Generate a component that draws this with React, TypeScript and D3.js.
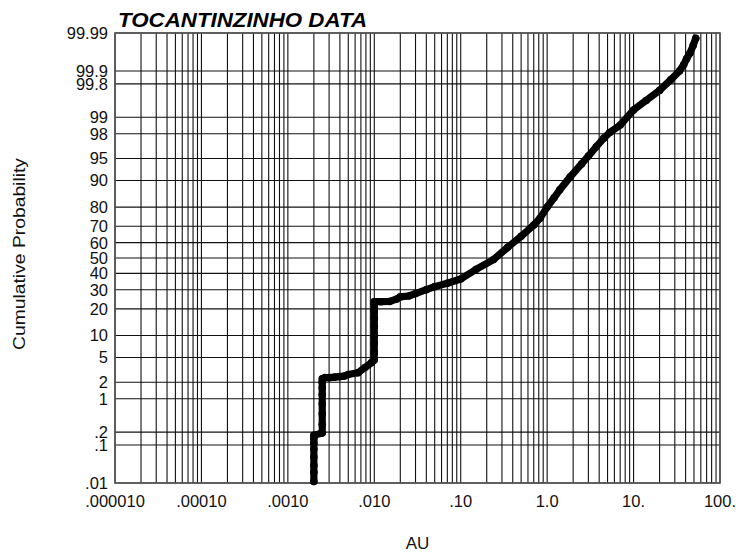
import React from "react";
import * as d3 from "d3";

// Probability-axis grid lines (cumulative %) and their labels
const probTicks = [99.99, 99.9, 99.8, 99, 98, 95, 90, 80, 70, 60, 50, 40, 30, 20, 10, 5, 2, 1, 0.2, 0.1, 0.01];
const probLabels = ["99.99", "99.9", "99.8", "99", "98", "95", "90", "80", "70", "60", "50", "40", "30", "20", "10", "5", "2", "1", ".2", ".1", ".01"];

// Log-axis decades and their labels
const auTicks = [1e-5, 1e-4, 1e-3, 1e-2, 1e-1, 1, 10, 100];
const auLabels = [".000010", ".00010", ".0010", ".010", ".10", "1.0", "10.", "100."];

// Sample grades (AU) and their cumulative probability (%)
const auValues = [
  0.002, 0.002, 0.002, 0.002, 0.002, 0.002, 0.002, 0.002,
  0.0025, 0.0025, 0.0025, 0.0025, 0.0025, 0.0025, 0.0025, 0.0025,
  0.0027, 0.003, 0.0035, 0.004, 0.0045, 0.005, 0.0065, 0.0078, 0.0093,
  0.01, 0.01, 0.01, 0.01, 0.01, 0.01, 0.01, 0.01, 0.01,
  0.012, 0.015, 0.018, 0.02, 0.025, 0.03, 0.04, 0.05, 0.07, 0.1, 0.15, 0.24, 0.35, 0.5, 0.7, 0.83,
  1.0, 1.2, 1.4, 1.85, 2.5, 3.0, 3.7, 4.5, 5.3, 7, 10, 14, 20, 27, 34, 38, 41, 45, 49, 52.4,
];
const cumProb = [
  0.011, 0.02, 0.03, 0.05, 0.08, 0.11, 0.14, 0.17,
  0.19, 0.3, 0.5, 0.8, 1.2, 1.6, 2.0, 2.3,
  2.4, 2.4, 2.45, 2.5, 2.55, 2.7, 2.9, 3.5, 4.2,
  4.6, 6, 8, 10, 13, 16, 19, 22, 23.5,
  23.5, 23.6, 24.8, 26, 26.5, 27.8, 30, 31.8, 33.8, 36.4, 42.5, 49, 57, 64, 70.7, 74.5,
  80, 84, 87, 91, 94, 95.4, 96.7, 97.6, 98.1, 98.6, 99.28, 99.54, 99.72, 99.84, 99.9, 99.93, 99.95, 99.965, 99.978, 99.986,
];

// Inverse of the standard normal CDF (Acklam's rational approximation)
function qnorm(p: number): number {
  const a = [-3.969683028665376e1, 2.209460984245205e2, -2.759285104469687e2, 1.38357751867269e2, -3.066479806614716e1, 2.506628277459239];
  const b = [-5.447609879822406e1, 1.615858368580409e2, -1.556989798598866e2, 6.680131188771972e1, -1.328068155288572e1];
  const c = [-7.784894002430293e-3, -3.223964580411365e-1, -2.400758277161838, -2.549732539343734, 4.374664141464968, 2.938163982698783];
  const d = [7.784695709041462e-3, 3.224671290700398e-1, 2.445134137142996, 3.754408661907416];
  const pl = 0.02425;
  if (p < pl) {
    const q = Math.sqrt(-2 * Math.log(p));
    return (((((c[0] * q + c[1]) * q + c[2]) * q + c[3]) * q + c[4]) * q + c[5]) / ((((d[0] * q + d[1]) * q + d[2]) * q + d[3]) * q + 1);
  }
  if (p > 1 - pl) {
    const q = Math.sqrt(-2 * Math.log(1 - p));
    return -(((((c[0] * q + c[1]) * q + c[2]) * q + c[3]) * q + c[4]) * q + c[5]) / ((((d[0] * q + d[1]) * q + d[2]) * q + d[3]) * q + 1);
  }
  const q = p - 0.5;
  const r = q * q;
  return ((((((a[0] * r + a[1]) * r + a[2]) * r + a[3]) * r + a[4]) * r + a[5]) * q) / (((((b[0] * r + b[1]) * r + b[2]) * r + b[3]) * r + b[4]) * r + 1);
}

const W = 736;
const H = 552;
const left = 115;
const right = 720;
const top = 33;
const bottom = 483;
const font = "'Liberation Sans', Arial, Helvetica, sans-serif";

export default function App() {
  const x = d3.scaleLog().domain([1e-5, 100]).range([left, right]);
  const zMax = qnorm(0.9999);
  const yz = d3.scaleLinear().domain([-zMax, zMax]).range([bottom, top]);
  const y = (pct: number) => yz(qnorm(pct / 100));

  // minor grid: 1..9 within each decade
  const vLines: number[] = [];
  for (let e = -5; e < 2; e++) {
    for (let m = 1; m <= 9; m++) vLines.push(m * Math.pow(10, e));
  }
  vLines.push(100);

  const pts = auValues.map((v, i) => [x(v), y(cumProb[i])] as [number, number]);
  const line = d3.line<[number, number]>().x((d) => d[0]).y((d) => d[1]);

  return (
    <svg width={W} height={H} style={{ position: "absolute", left: 0, top: 0, background: "#fff" }} fontFamily={font}>
      <rect x={0} y={0} width={W} height={H} fill="#fff" />
      <g stroke="#111" strokeWidth={1.1}>
        {vLines.map((v, i) => (
          <line key={"v" + i} x1={x(v)} x2={x(v)} y1={top} y2={bottom} />
        ))}
        {probTicks.map((p, i) => (
          <line key={"h" + i} x1={left} x2={right} y1={y(p)} y2={y(p)} />
        ))}
      </g>
      <rect x={left} y={top} width={right - left} height={bottom - top} fill="none" stroke="#555" strokeWidth={1.6} />

      {/* cumulative probability curve */}
      <path d={line(pts) || ""} fill="none" stroke="#000" strokeWidth={7.2} strokeLinejoin="round" strokeLinecap="round" />
      <g fill="#000">
        {pts.map((p, i) => (
          <circle key={"c" + i} cx={p[0]} cy={p[1]} r={3.8} />
        ))}
      </g>

      {/* y tick labels */}
      <g fontSize={16.5} textAnchor="end" fill="#111">
        {probTicks.map((p, i) => (
          <text key={"yl" + i} x={108} y={y(p)} dy="0.36em">
            {probLabels[i]}
          </text>
        ))}
      </g>
      {/* x tick labels */}
      <g fontSize={16.5} textAnchor="middle" fill="#111">
        {auTicks.map((v, i) => (
          <text key={"xl" + i} x={x(v)} y={507}>
            {auLabels[i]}
          </text>
        ))}
      </g>

      <text x={118} y={27} fontSize={20} fontWeight="bold" fontStyle="italic" textLength={249} lengthAdjust="spacingAndGlyphs" fill="#000">
        TOCANTINZINHO DATA
      </text>
      <text x={(left + right) / 2} y={549} fontSize={17} textAnchor="middle" fill="#111">
        AU
      </text>
      <text transform={`translate(25,254) rotate(-90)`} fontSize={17} textAnchor="middle" textLength={192} lengthAdjust="spacingAndGlyphs" fill="#111">
        Cumulative Probability
      </text>
    </svg>
  );
}
